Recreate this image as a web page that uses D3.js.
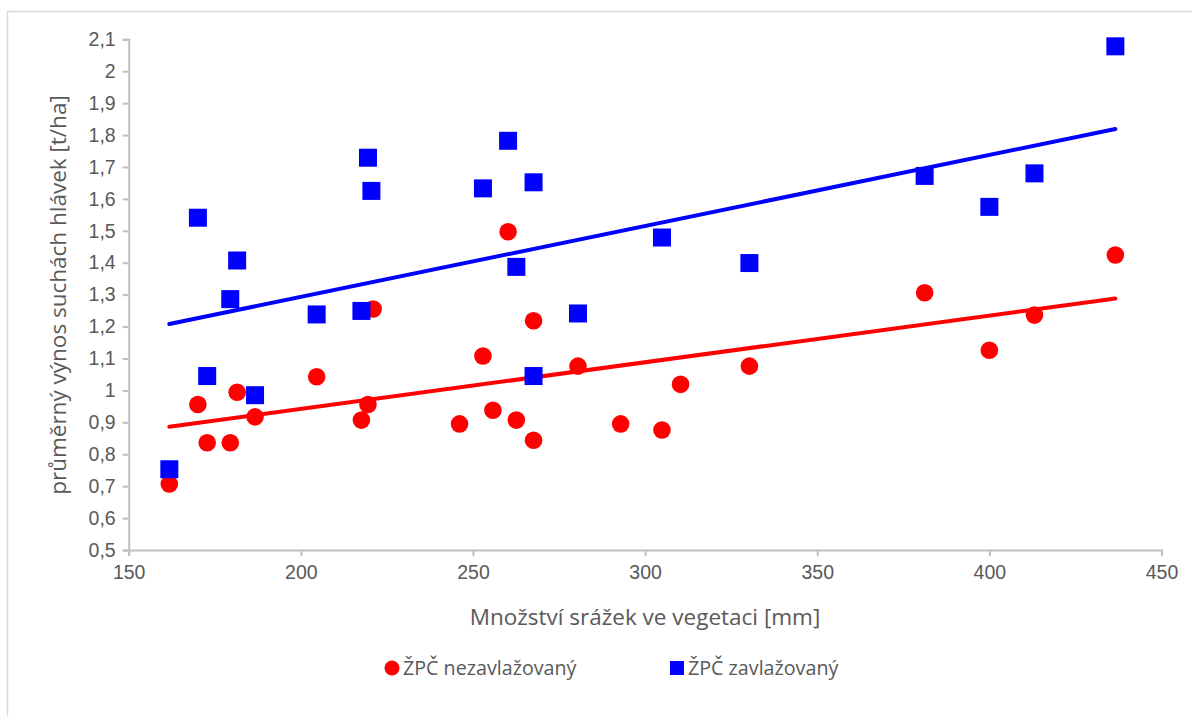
<!DOCTYPE html>
<html>
<head>
<meta charset="utf-8">
<script src="https://cdn.jsdelivr.net/npm/d3@7"></script>
<style>
  html, body { margin: 0; padding: 0; background: #fff; }
  svg { display: block; font-family: "Open Sans", "Noto Sans", sans-serif; }
</style>
</head>
<body>
<svg id="chart" width="1192" height="716"></svg>
<script>
// Precipitation during vegetation [mm] and mean dry head yield [t/ha]
const rainNonIrrigated = [161.8, 170.1, 172.8, 179.5, 181.5, 186.7, 204.6, 217.6, 219.5, 221.0,
  246.1, 252.9, 255.8, 260.2, 262.6, 267.6, 267.6, 280.5, 292.9, 304.9, 310.3, 330.3,
  381.2, 400.0, 413.1, 436.6];
const yieldNonIrrigated = [0.707, 0.956, 0.836, 0.836, 0.994, 0.917, 1.043, 0.907, 0.956, 1.255,
  0.895, 1.108, 0.938, 1.497, 0.907, 1.218, 0.844, 1.076, 0.895, 0.876, 1.019, 1.076,
  1.306, 1.126, 1.236, 1.424];

const rainIrrigated = [161.8, 170.1, 172.8, 179.5, 181.5, 186.7, 204.6, 217.6, 219.5, 220.5,
  252.9, 260.2, 262.6, 267.6, 267.6, 280.5, 304.9, 330.3, 381.2, 400.0, 413.1, 436.6];
const yieldIrrigated = [0.753, 1.541, 1.045, 1.286, 1.407, 0.985, 1.238, 1.249, 1.729, 1.625,
  1.633, 1.782, 1.387, 1.652, 1.045, 1.241, 1.479, 1.399, 1.672, 1.575, 1.680, 2.078];

// Linear trend lines (start/end over the precipitation range)
const trendRain = [161.8, 436.6];
const trendNonIrrigated = [0.886, 1.288];
const trendIrrigated = [1.208, 1.819];

const xTicks = [150, 200, 250, 300, 350, 400, 450];
const yTicks = [0.5, 0.6, 0.7, 0.8, 0.9, 1.0, 1.1, 1.2, 1.3, 1.4, 1.5, 1.6, 1.7, 1.8, 1.9, 2.0, 2.1];

const seriesNames = ["ŽPČ nezavlažovaný", "ŽPČ zavlažovaný"];
const xTitle = "Množství srážek ve vegetaci [mm]";
const yTitle = "průměrný výnos suchách hlávek [t/ha]";

const RED = "#ff0000", BLUE = "#0000ff", AXIS = "#bfbfbf", TEXT = "#595959";

const svg = d3.select("#chart");

// chart frame
svg.append("rect")
  .attr("x", 7.5).attr("y", 11.5)
  .attr("width", 1200).attr("height", 720)
  .attr("fill", "#fff").attr("stroke", "#d9d9d9").attr("stroke-width", 1.5);

const x = d3.scaleLinear().domain([150, 450]).range([128.7, 1161.5]);
const y = d3.scaleLinear().domain([0.5, 2.1]).range([550, 39.3]);

const fmt = v => (Number.isInteger(v) ? String(v) : v.toFixed(1).replace(".", ","));

// x axis
const xAxis = svg.append("g")
  .attr("transform", `translate(0,${y(0.5)})`)
  .call(d3.axisBottom(x).tickValues(xTicks).tickFormat(d => d).tickSizeOuter(0).tickSize(6).tickPadding(9));

// y axis
const yAxis = svg.append("g")
  .attr("transform", `translate(${x(150)},0)`)
  .call(d3.axisLeft(y).tickValues(yTicks).tickFormat(fmt).tickSizeOuter(0).tickSize(6).tickPadding(7));

[xAxis, yAxis].forEach(g => {
  g.select(".domain").attr("stroke", AXIS).attr("stroke-width", 2);
  g.selectAll(".tick line").attr("stroke", AXIS).attr("stroke-width", 2);
  g.selectAll(".tick text").attr("fill", TEXT).style("font-size", "19.5px");
});

// axis titles
svg.append("text")
  .attr("x", 645).attr("y", 625)
  .attr("text-anchor", "middle")
  .attr("fill", TEXT).style("font-size", "22.5px")
  .text(xTitle);

svg.append("text")
  .attr("transform", "translate(66,295) rotate(-90)")
  .attr("text-anchor", "middle")
  .attr("fill", TEXT).style("font-size", "22.5px")
  .text(yTitle);

// trend lines
const line = d3.line().x(d => x(d[0])).y(d => y(d[1]));
[[trendNonIrrigated, RED], [trendIrrigated, BLUE]].forEach(([vals, col]) => {
  svg.append("path")
    .datum(trendRain.map((r, i) => [r, vals[i]]))
    .attr("d", line)
    .attr("fill", "none").attr("stroke", col)
    .attr("stroke-width", 4).attr("stroke-linecap", "round");
});

// non-irrigated points (circles)
svg.append("g").selectAll("circle")
  .data(rainNonIrrigated.map((r, i) => [r, yieldNonIrrigated[i]]))
  .join("circle")
  .attr("cx", d => x(d[0])).attr("cy", d => y(d[1]))
  .attr("r", 8.8).attr("fill", RED);

// irrigated points (squares)
const sq = 18;
svg.append("g").selectAll("rect")
  .data(rainIrrigated.map((r, i) => [r, yieldIrrigated[i]]))
  .join("rect")
  .attr("x", d => x(d[0]) - sq / 2).attr("y", d => y(d[1]) - sq / 2)
  .attr("width", sq).attr("height", sq).attr("fill", BLUE);

// legend
const legend = svg.append("g");
legend.append("circle").attr("cx", 392).attr("cy", 668).attr("r", 7.5).attr("fill", RED);
legend.append("text").attr("x", 403).attr("y", 675)
  .attr("fill", TEXT).style("font-size", "19.7px").text(seriesNames[0]);
legend.append("rect").attr("x", 670).attr("y", 661).attr("width", 14).attr("height", 14).attr("fill", BLUE);
legend.append("text").attr("x", 688).attr("y", 675)
  .attr("fill", TEXT).style("font-size", "19.7px").text(seriesNames[1]);
</script>
</body>
</html>
